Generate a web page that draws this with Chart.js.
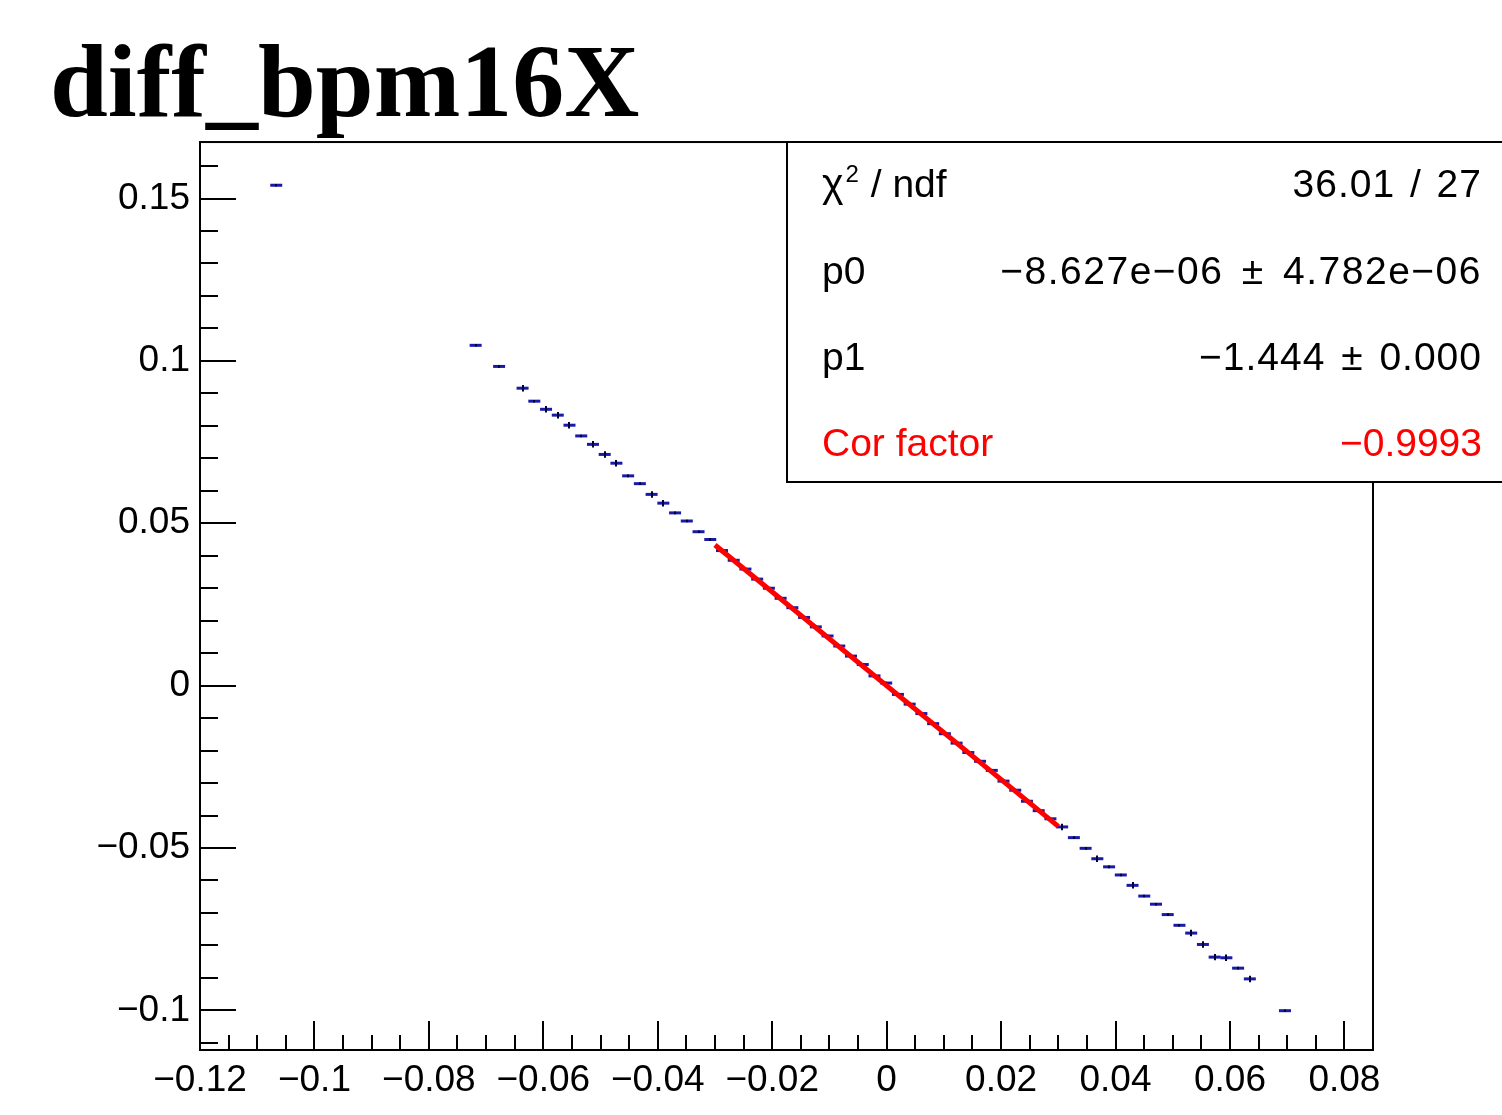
<!DOCTYPE html>
<html>
<head>
<meta charset="utf-8">
<script src="https://cdn.jsdelivr.net/npm/chart.js@4.4.1/dist/chart.umd.min.js"></script>
<style>
  html, body { margin: 0; padding: 0; background: #ffffff; }
  #wrap { width: 1502px; height: 1115px; position: relative; }
  canvas { display: block; }
</style>
</head>
<body>
<div id="wrap"><canvas id="c" width="1502" height="1115"></canvas></div>
<script>
// ---------------- data ----------------
const titleText = 'diff_bpm16X';

// profile binning (100 bins from -0.12 to 0.085)
const binLow = -0.12;
const binWidth = 0.00205;

// filled bins (index) and their mean values / errors
const binIndex = [6, 23, 25, 27, 28, 29, 30, 31, 32, 33, 34, 35, 36, 37, 38, 39, 40, 41, 42, 43,
  44, 45, 46, 47, 48, 49, 50, 51, 52, 53, 54, 55, 56, 57, 58, 59, 60, 61, 62, 63, 64, 65, 66, 67, 68, 69, 70, 71, 72,
  73, 74, 75, 76, 77, 78, 79, 80, 81, 82, 83, 84, 85, 86, 87, 88, 89, 92];
const binValue = [0.1541, 0.1048, 0.0983, 0.0916, 0.0876, 0.0851, 0.0833, 0.0802, 0.0769, 0.0743, 0.0712, 0.0685, 0.0646, 0.0622, 0.0589, 0.0562, 0.0532, 0.0507, 0.0474, 0.0450,
  0.0416, 0.0386, 0.0359, 0.0328, 0.0300, 0.0269, 0.0240, 0.0210, 0.0181, 0.0153, 0.0122, 0.0091, 0.0065, 0.0030, 0.0008, -0.0027, -0.0057, -0.0086, -0.0117, -0.0148, -0.0177, -0.0206, -0.0233, -0.0261, -0.0294, -0.0322, -0.0356, -0.0385, -0.0410,
  -0.0435, -0.0468, -0.0501, -0.0533, -0.0558, -0.0583, -0.0615, -0.0648, -0.0673, -0.0705, -0.0738, -0.0762, -0.0797, -0.0836, -0.0838, -0.0870, -0.0903, -0.1001];
const binError = [0.0004, 0.0004, 0.0004, 0.0010, 0.0004, 0.0010, 0.0010, 0.0010, 0.0004, 0.0010, 0.0010, 0.0010, 0.0004, 0.0004, 0.0010, 0.0010, 0.0004, 0.0004, 0.0004, 0.0004,
  0.0004, 0.0004, 0.0004, 0.0004, 0.0004, 0.0004, 0.0004, 0.0004, 0.0004, 0.0004, 0.0004, 0.0004, 0.0004, 0.0004, 0.0004, 0.0004, 0.0004, 0.0004, 0.0004, 0.0004, 0.0004, 0.0004, 0.0004, 0.0004, 0.0004, 0.0004, 0.0004, 0.0004, 0.0004,
  0.0010, 0.0004, 0.0004, 0.0010, 0.0004, 0.0004, 0.0010, 0.0004, 0.0004, 0.0004, 0.0004, 0.0010, 0.0010, 0.0010, 0.0010, 0.0004, 0.0010, 0.0004];

// linear fit  y = p0 + p1 * x  over the fit range
const fitP0 = -8.627e-06;
const fitP1 = -1.444;
const fitRange = [-0.03, 0.03];

// axes
const xRange = [-0.12, 0.085];
const yRange = [-0.1122, 0.1674];
const xMajorStep = 0.02, xMinorDiv = 4;
const yMajorStep = 0.05, yMinorDiv = 5;

// stats box
const statLabels = ['\u03C7', 'p0', 'p1', 'Cor factor'];
const statValues = ['36.01 / 27', '\u22128.627e\u221206 \u00B1 4.782e\u221206', '\u22121.444 \u00B1 0.000', '\u22120.9993'];
const statColors = ['#000000', '#000000', '#000000', '#ff0000'];

// ---------------- chart ----------------
const profileData = binIndex.map((b, i) => ({ x: binLow + (b + 0.5) * binWidth, y: binValue[i] }));
const fitData = fitRange.map(x => ({ x: x, y: fitP0 + fitP1 * x }));

const SANS = '"Liberation Sans", Arial, Helvetica, sans-serif';

function fmtTick(v) {
  const s = String(Math.round(v * 1e6) / 1e6);
  return s.replace('-', '\u2212');
}

const errorBarPlugin = {
  id: 'errorBars',
  afterDatasetDraw(chart, args) {
    if (args.index !== 1) return;
    const ctx = chart.ctx, xs = chart.scales.x, ys = chart.scales.y;
    ctx.save();
    ctx.strokeStyle = '#000033';
    ctx.lineWidth = 2;
    profileData.forEach((p, i) => {
      const e = binError[i];
      const px = Math.round(xs.getPixelForValue(p.x));
      ctx.beginPath();
      ctx.moveTo(px, ys.getPixelForValue(p.y - e));
      ctx.lineTo(px, ys.getPixelForValue(p.y + e));
      ctx.stroke();
    });
    ctx.restore();
  }
};

const framePlugin = {
  id: 'rootFrame',
  beforeDatasetsDraw(chart) {
    const ctx = chart.ctx, a = chart.chartArea, xs = chart.scales.x, ys = chart.scales.y;
    ctx.save();
    ctx.strokeStyle = '#000';
    ctx.lineWidth = 2;
    ctx.strokeRect(a.left, a.top, a.right - a.left, a.bottom - a.top);
    // x ticks (pointing up, inside)
    const xm = xMajorStep / xMinorDiv;
    for (let k = Math.ceil(xs.min / xm - 1e-6); k <= Math.floor(xs.max / xm + 1e-6); k++) {
      const px = Math.round(xs.getPixelForValue(k * xm));
      const len = (k % xMinorDiv === 0) ? 29 : 15;
      ctx.beginPath();
      ctx.moveTo(px, a.bottom);
      ctx.lineTo(px, a.bottom - len);
      ctx.stroke();
    }
    // y ticks (pointing right, inside)
    const ym = yMajorStep / yMinorDiv;
    for (let k = Math.ceil(ys.min / ym - 1e-6); k <= Math.floor(ys.max / ym + 1e-6); k++) {
      const py = Math.round(ys.getPixelForValue(k * ym));
      const len = (k % yMinorDiv === 0) ? 36 : 18;
      ctx.beginPath();
      ctx.moveTo(a.left, py);
      ctx.lineTo(a.left + len, py);
      ctx.stroke();
    }
    ctx.restore();
  },
  afterDraw(chart) {
    const ctx = chart.ctx;
    const bx = 787, by = 142, bw = 1502 - 787 + 10, bh = 482 - 142;
    ctx.save();
    ctx.fillStyle = '#fff';
    ctx.fillRect(bx, by, bw, bh);
    ctx.strokeStyle = '#000';
    ctx.lineWidth = 2;
    ctx.strokeRect(bx, by, bw, bh);
    const baselines = [197, 284, 370, 456];
    const wordSp = [3, 6, 4, 0];
    const letterSp = [1, 1.5, 1, 0];
    const fs = 39;
    ctx.textBaseline = 'alphabetic';
    for (let i = 0; i < statLabels.length; i++) {
      ctx.fillStyle = statColors[i];
      ctx.font = fs + 'px ' + SANS;
      ctx.textAlign = 'left';
      if (i === 0) {
        try { ctx.wordSpacing = '10px'; } catch (e) {}
        ctx.font = (fs + 2) + 'px ' + SANS;
        ctx.fillText(statLabels[0], 822, baselines[0]);
        const w = ctx.measureText(statLabels[0]).width;
        ctx.font = Math.round(fs * 0.62) + 'px ' + SANS;
        ctx.fillText('2', 822 + w + 2, baselines[0] - 15);
        const w2 = ctx.measureText('2').width;
        ctx.font = fs + 'px ' + SANS;
        ctx.fillText(' / ndf', 822 + w + w2 + 3, baselines[0]);
      } else {
        ctx.fillText(statLabels[i], 822, baselines[i]);
      }
      try { ctx.wordSpacing = wordSp[i] + 'px'; ctx.letterSpacing = letterSp[i] + 'px'; } catch (e) {}
      ctx.textAlign = 'right';
      ctx.fillText(statValues[i], 1482, baselines[i]);
      try { ctx.wordSpacing = '0px'; ctx.letterSpacing = '0px'; } catch (e) {}
    }
    ctx.restore();
  }
};

new Chart(document.getElementById('c'), {
  type: 'scatter',
  data: {
    datasets: [
      {
        label: 'fit',
        type: 'line',
        data: fitData,
        borderColor: '#ff0000',
        borderWidth: 5,
        pointRadius: 0,
        showLine: true,
        fill: false,
        order: 0
      },
      {
        label: 'profile',
        data: profileData,
        pointStyle: 'line',
        pointRadius: 6,
        pointHoverRadius: 6,
        borderColor: '#1a1aa8',
        backgroundColor: '#1a1aa8',
        pointBorderWidth: 3,
        borderWidth: 3,
        order: 1
      }
    ]
  },
  options: {
    responsive: false,
    animation: false,
    devicePixelRatio: 1,
    events: [],
    layout: { padding: { left: 50, right: 129, top: 0, bottom: 0 } },
    plugins: {
      legend: { display: false },
      tooltip: { enabled: false },
      title: {
        display: true,
        text: titleText,
        align: 'start',
        color: '#000',
        font: { family: '"Liberation Serif", "Times New Roman", serif', size: 104, weight: 'bold', lineHeight: 1.01 },
        padding: { top: 37, bottom: 0 }
      }
    },
    scales: {
      x: {
        type: 'linear',
        min: xRange[0],
        max: xRange[1],
        grid: { display: false },
        border: { display: false },
        ticks: {
          stepSize: xMajorStep,
          includeBounds: false,
          autoSkip: false,
          maxRotation: 0,
          padding: 1,
          color: '#000',
          font: { family: SANS, size: 37 },
          callback: fmtTick
        },
        afterFit(s) { s.height = 65; }
      },
      y: {
        type: 'linear',
        min: yRange[0],
        max: yRange[1],
        grid: { display: false },
        border: { display: false },
        ticks: {
          stepSize: yMajorStep,
          includeBounds: false,
          autoSkip: false,
          padding: 2,
          color: '#000',
          font: { family: SANS, size: 37 },
          callback: fmtTick
        },
        afterFit(s) { s.width = 150; }
      }
    }
  },
  plugins: [framePlugin, errorBarPlugin]
});
</script>
</body>
</html>
